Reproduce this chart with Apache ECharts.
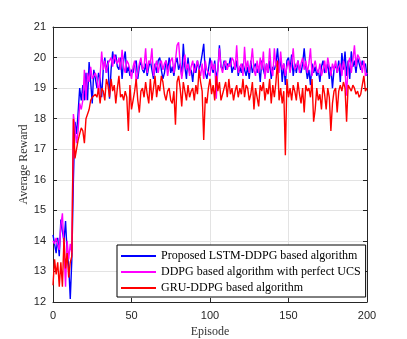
<!DOCTYPE html>
<html><head><meta charset="utf-8">
<script src="https://cdn.jsdelivr.net/npm/echarts@6/dist/echarts.min.js"></script>
<style>html,body{margin:0;padding:0;background:#fff}#c{width:407px;height:339px}</style>
</head><body><div id="c"></div>
<script>
const seriesNames = ['Proposed LSTM-DDPG based algorithm','DDPG based algorithm with perfect UCS','GRU-DDPG based algorithm'];
const xTicks = [0,50,100,150,200];
const yTicks = [12,13,14,15,16,17,18,19,20,21];
const lstm = [
14.2,13.9,13.6,14.1,13.5,14.7,14.3,14.0,14.65,13.6,
13.2,12.1,13.4,16.0,17.9,17.5,18.2,19.0,18.6,19.1,
18.6,19.5,18.6,19.85,19.2,18.5,19.6,19.3,19.0,19.5,
19.3,18.7,19.6,20.0,19.5,19.9,18.65,19.6,20.2,19.8,
20.1,19.7,19.6,20.0,19.3,19.9,20.2,19.5,19.7,19.4,
19.6,19.5,19.8,19.9,19.3,19.7,19.9,19.6,19.5,19.8,
19.4,19.7,19.9,19.6,19.3,19.8,19.5,19.9,20.0,19.6,
19.3,19.5,19.9,19.6,20.0,19.5,19.7,19.4,19.8,20.0,
19.6,19.8,19.4,20.45,19.7,19.3,20.0,19.5,19.6,19.2,
19.8,19.5,19.9,19.6,19.8,20.1,20.45,19.5,19.3,19.6,
20.0,19.7,19.5,19.9,19.3,19.6,20.4,19.7,19.6,19.9,
19.6,19.8,19.7,20.0,19.5,19.7,19.6,19.9,19.4,19.7,
19.5,19.8,19.6,19.4,19.7,19.3,19.9,19.5,19.7,19.8,
19.5,19.7,19.2,19.9,19.6,19.4,19.8,19.5,19.9,19.3,
19.7,19.6,19.8,20.3,19.6,20.0,19.2,19.8,19.1,19.9,
20.0,19.6,20.1,19.4,19.8,19.5,19.9,19.6,19.5,19.8,
20.3,19.7,19.3,19.6,19.1,19.8,19.5,19.7,19.4,19.6,
19.2,19.7,19.9,19.5,19.6,19.8,19.3,19.7,19.0,19.6,
19.8,19.5,19.9,19.2,20.15,19.6,20.2,19.4,19.9,19.3,
20.2,19.7,19.9,19.5,20.0,19.8,19.6,19.9,19.7,19.8,19.4];
const ddpg = [
14.0,13.9,14.1,14.1,13.7,14.5,14.9,13.7,12.5,14.0,
13.4,13.9,13.6,18.15,17.7,17.2,17.6,18.5,18.3,18.6,
19.6,18.6,19.5,19.2,19.7,19.3,19.4,19.5,19.3,18.8,
19.4,20.2,19.6,19.9,19.5,19.8,19.9,20.0,19.7,20.1,
19.9,19.8,20.0,19.6,20.25,19.7,19.5,19.9,19.8,19.6,
19.3,19.7,19.9,19.2,19.5,19.8,20.0,19.6,19.7,20.3,
19.5,19.9,19.8,20.3,19.4,19.7,19.9,19.5,19.8,19.9,
19.6,19.8,19.9,19.4,19.7,19.9,20.0,19.5,19.9,20.4,
20.5,19.8,19.3,19.7,20.1,19.6,19.8,19.4,19.7,19.9,
19.5,19.7,19.9,19.6,19.4,19.8,19.3,19.9,19.6,19.5,
19.4,19.9,19.6,19.8,18.65,19.6,20.3,19.7,19.5,19.8,
19.9,19.6,19.8,19.7,20.0,19.9,19.6,20.4,19.5,19.7,
19.8,19.4,20.35,19.6,19.9,19.5,19.8,20.3,19.6,19.4,
19.9,19.5,20.0,19.6,20.2,19.3,19.8,19.5,20.3,19.6,
19.4,20.3,19.7,19.9,19.5,20.2,19.6,19.8,19.4,19.7,
19.9,19.5,19.8,20.3,19.6,19.7,19.9,19.5,19.8,20.0,
19.6,19.9,19.5,19.8,20.3,19.4,19.7,19.9,19.6,19.5,
19.8,19.4,19.6,19.9,19.5,20.0,19.7,19.4,19.8,19.6,
19.9,19.5,19.7,19.8,19.4,19.9,19.6,18.75,19.8,20.0,
19.5,19.9,20.4,19.7,20.1,20.0,19.8,19.5,19.9,19.4,19.5];
const gru = [
12.55,13.4,12.9,13.3,12.5,13.3,12.5,14.1,13.1,13.6,
12.8,13.3,13.5,18.0,16.7,17.0,17.3,17.5,17.7,17.6,
17.2,18.0,18.0,18.3,18.6,18.7,18.65,18.8,18.7,19.0,
18.5,19.0,18.9,18.6,19.3,19.1,18.7,19.3,18.9,19.1,
18.5,19.0,19.4,18.7,18.8,18.6,18.9,18.7,17.6,19.1,
18.3,18.6,18.9,19.3,18.6,18.2,18.9,19.0,18.7,19.2,
18.8,18.5,19.3,18.6,19.0,19.4,18.7,19.1,18.9,19.4,
19.2,18.8,18.6,18.9,19.0,18.6,18.5,18.9,17.8,19.2,
19.4,19.0,18.4,19.2,18.9,18.6,19.1,18.7,18.9,19.0,
18.6,19.1,18.8,19.6,19.2,18.9,17.3,18.7,18.5,19.0,
19.3,18.8,19.1,18.6,19.4,18.9,19.2,18.6,18.8,19.0,
19.2,18.7,19.3,18.8,19.0,18.6,18.9,19.1,18.7,19.0,
18.8,19.3,18.7,19.1,19.0,18.6,18.8,19.2,18.3,19.0,
18.7,18.4,19.1,18.9,19.2,18.6,19.0,18.8,19.3,18.5,
19.1,18.7,19.2,19.9,18.6,19.0,18.5,18.9,16.8,19.3,
18.7,19.0,18.6,19.1,18.9,18.6,19.2,18.8,18.5,19.0,
18.2,19.1,18.9,19.0,18.7,19.3,17.9,18.3,19.0,18.6,
18.8,18.3,19.1,18.8,18.3,19.0,18.7,17.6,18.5,18.9,
19.0,18.2,18.9,19.1,18.9,19.2,19.0,17.9,19.1,19.0,
18.9,19.1,19.0,18.8,18.9,18.7,18.8,18.75,19.4,18.9,19.0];

const pairs = arr => arr.map((v,i)=>[i,v]);
const axisCol = '#262626';
const serif = '"Liberation Serif","DejaVu Serif",serif';
const sans = '"Liberation Sans",Arial,sans-serif';
const chart = echarts.init(document.getElementById('c'));
const mkX = (pos, show) => ({type:'value',position:pos,min:xTicks[0],max:xTicks[xTicks.length-1],interval:50,
  axisLine:{show:true,onZero:false,lineStyle:{color:axisCol,width:1}},
  axisTick:{show:true,inside:true,length:4,lineStyle:{color:axisCol}},
  axisLabel:{show:show,color:axisCol,fontSize:11,fontFamily:sans,margin:8},
  splitLine:{show:show,lineStyle:{color:'#e3e3e3',width:1}},
  name: show?'Episode':'',nameLocation:'middle',nameGap:24,nameMoveOverlap:false,
  nameTextStyle:{fontFamily:serif,fontSize:12,color:'#333'}});
const mkY = (pos, show) => ({type:'value',position:pos,min:yTicks[0],max:yTicks[yTicks.length-1],interval:1,
  axisLine:{show:true,onZero:false,lineStyle:{color:axisCol,width:1}},
  axisTick:{show:true,inside:true,length:4,lineStyle:{color:axisCol}},
  axisLabel:{show:show,color:axisCol,fontSize:11,fontFamily:sans,margin:7},
  splitLine:{show:show,lineStyle:{color:'#e3e3e3',width:1}},
  name: show?'Average Reward':'',nameLocation:'middle',nameGap:23,nameMoveOverlap:false,
  nameTextStyle:{fontFamily:serif,fontSize:12,color:'#333'}});
const colors = ['#0000ff','#ff00ff','#ff0000'];
const datas = [lstm, ddpg, gru];
chart.setOption({
  animation:false,
  backgroundColor:'#fff',
  grid:{left:53,right:40,top:27,bottom:37,containLabel:false,outerBoundsMode:'none'},
  xAxis:[mkX('bottom',true), mkX('top',false)],
  yAxis:[mkY('left',true), mkY('right',false)],
  legend:{orient:'vertical',left:117,top:245,padding:[5,5,3,4],itemGap:4,
    itemWidth:35,itemHeight:2,icon:'rect',
    backgroundColor:'#fff',borderColor:'#000',borderWidth:1,borderRadius:0,
    textStyle:{fontFamily:serif,fontSize:12,color:'#000'},
    data:seriesNames},
  series: seriesNames.map((n,k)=>({name:n,type:'line',data:pairs(datas[k]),showSymbol:false,symbol:'none',
    lineStyle:{color:colors[k],width:1.4},itemStyle:{color:colors[k]},z:2+k}))
});
</script></body></html>
